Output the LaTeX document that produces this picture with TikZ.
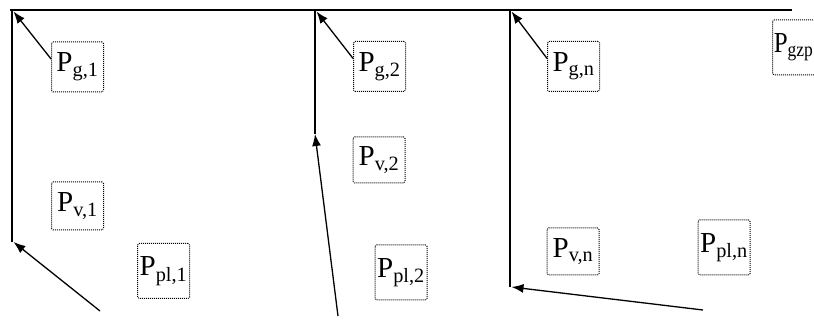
\documentclass[tikz,border=0pt]{standalone}
\usepackage{fontspec}
\setmainfont{Liberation Serif}
\usetikzlibrary{arrows.meta}
\begin{document}
\begin{tikzpicture}[x=1pt,y=-1pt,
  pbox/.style={draw, dash pattern=on 1pt off 1pt, line width=1pt, rounded corners=1.5pt,
    minimum width=52pt, minimum height=50pt, inner sep=0pt,
    font=\fontsize{29}{30}\selectfont},
  wire/.style={line width=1.4pt},
  arr/.style={line width=1.3pt, -{Latex[length=12pt,width=9pt]}}]
\useasboundingbox (0,0) rectangle (814,320);
\begin{scope}
\clip (0,0) rectangle (814,320);
% corners
\coordinate (t0) at (10,10);
\coordinate (c1) at (12,10);
\coordinate (b1) at (12,242);
\coordinate (c2) at (315,10);
\coordinate (b2) at (315,134);
\coordinate (c3) at (510,10);
\coordinate (b3) at (510,287);
\coordinate (t4) at (792,10);
\coordinate (f1) at (100,311);
\coordinate (f2) at (338,316);
\coordinate (f3) at (703,310);
% boxes
\node[pbox] (pg1) at (77.5,67) {P\textsubscript{g,1}};
\node[pbox, minimum height=48pt] (pv1) at (77.5,206) {P\textsubscript{v,1}};
\node[pbox, minimum height=55pt] (ppl1) at (163.5,271) {P\textsubscript{pl,1}};
\node[pbox] (pg2) at (379.5,66.5) {P\textsubscript{g,2}};
\node[pbox, minimum height=46pt] (pv2) at (379,160) {P\textsubscript{v,2}};
\node[pbox, minimum height=55pt] (ppl2) at (401,272.5) {P\textsubscript{pl,2}};
\node[pbox] (pgn) at (573.5,66.5) {P\textsubscript{g,n}};
\node[pbox, minimum height=47pt] (pvn) at (573,251.5) {P\textsubscript{v,n}};
\node[pbox, minimum height=55pt] (ppln) at (724,247.5) {P\textsubscript{pl,n}};
\node[pbox, minimum height=55pt, minimum width=64pt, anchor=west, align=left] (pgzp) at (772,47.5) {\hspace{-22pt}\scalebox{0.86}[1]{P\textsubscript{gzp}}};
% wires
\draw[wire] (t0) -- (t4);
\draw[wire] (c1) -- (b1);
\draw[wire] (c2) -- (b2);
\draw[wire] (c3) -- (b3);
% arrows
\draw[arr] (pg1.163) -- ([shift={(1.5,1.5)}]c1);
\draw[arr] (pg2.163) -- ([shift={(1.5,1.5)}]c2);
\draw[arr] (pgn.163) -- ([shift={(1.5,1.5)}]c3);
\draw[arr] (f1) -- ([shift={(1.5,0)}]b1);
\draw[arr] (f2) -- (b2);
\draw[arr] (f3) -- ([shift={(1.5,0)}]b3);
\end{scope}
\end{tikzpicture}
\end{document}
